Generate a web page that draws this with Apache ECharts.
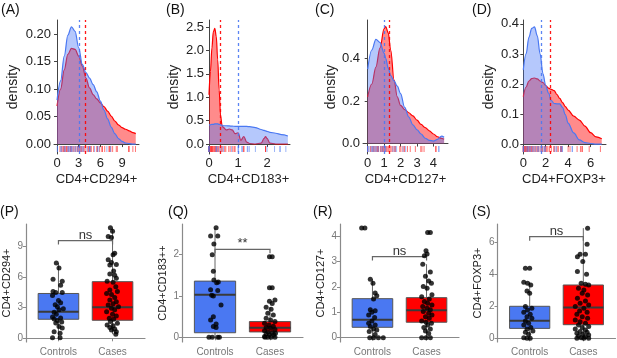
<!DOCTYPE html>
<html><head><meta charset="utf-8">
<script src="https://cdn.jsdelivr.net/npm/echarts@6/dist/echarts.min.js"></script>
<style>html,body{margin:0;padding:0;background:#fff}#c{width:617px;height:358px}</style>
</head><body><div id="c"></div>
<script>
// ---------------- DATA ----------------
const panelLabelsTop = ['(A)','(B)','(C)','(D)'];
const panelLabelsBottom = ['(P)','(Q)','(R)','(S)'];
const markerNames = ['CD4+CD294+','CD4+CD183+','CD4+CD127+','CD4+FOXP3+'];
const boxYNames = ['CD4+CD294+','CD4+CD183++','CD4+CD127+','CD4+FOXP3+'];
const groups = ['Controls','Cases'];
const sigLabels = ['ns','**','ns','ns'];
const bracketY = [9.59, 2.13, 3.2, 6.35];

// density curves
const densX_A = [0,0.5,1,1.5,2,2.5,3,3.5,4,4.5,5,5.5,6,6.5,7,7.5,8,8.5,9,9.5,10,10.5,10.9];
const densCtrl_A = [0.080,0.115,0.160,0.198,0.213,0.205,0.175,0.145,0.130,0.120,0.108,0.095,0.078,0.062,0.046,0.031,0.019,0.010,0.005,0.002,0.001,0.000,0.000];
const densCase_A = [0.069,0.100,0.135,0.163,0.174,0.172,0.160,0.142,0.120,0.102,0.090,0.082,0.075,0.068,0.060,0.051,0.042,0.035,0.030,0.027,0.024,0.021,0.019];

const densX_B = [0,0.05,0.1,0.15,0.2,0.25,0.3,0.35,0.4,0.45,0.5,0.6,0.7,0.8,0.9,1.0,1.1,1.2,1.3,1.4,1.6,1.8,1.9,1.95,2.0,2.1,2.3,2.5,2.72];
const densCtrl_B = [0.41,0.41,0.42,0.42,0.43,0.43,0.43,0.42,0.41,0.40,0.39,0.39,0.385,0.38,0.378,0.375,0.375,0.375,0.375,0.37,0.35,0.31,0.29,0.28,0.27,0.25,0.23,0.20,0.17];
const densCase_B = [1.05,1.55,2.05,2.40,2.47,2.30,1.80,1.15,0.60,0.40,0.35,0.30,0.32,0.30,0.22,0.24,0.08,0.16,0.04,0.01,0.0,0.02,0.12,0.16,0.12,0.02,0.0,0.0,0.0];

const densX_C = [0,0.25,0.5,0.75,1.0,1.1,1.25,1.4,1.6,1.8,2.0,2.25,2.5,2.75,3.0,3.25,3.5,3.75,4.0,4.25,4.5,4.65];
const densCtrl_C = [0.35,0.44,0.49,0.475,0.425,0.40,0.355,0.32,0.295,0.27,0.235,0.17,0.125,0.088,0.065,0.045,0.025,0.015,0.012,0.02,0.035,0.03];
const densCase_C = [0.22,0.28,0.36,0.45,0.54,0.55,0.52,0.44,0.30,0.22,0.18,0.16,0.145,0.13,0.11,0.09,0.075,0.06,0.045,0.032,0.024,0.02];

const densX_D = [0,0.25,0.5,0.75,1.0,1.25,1.5,1.75,2.0,2.25,2.5,2.75,3.0,3.25,3.5,3.75,4.0,4.5,5.0,5.5,6.0,6.5,7.0];
const densCtrl_D = [0.247,0.30,0.355,0.385,0.39,0.36,0.30,0.235,0.195,0.17,0.145,0.135,0.134,0.134,0.122,0.098,0.07,0.037,0.014,0.005,0.002,0.0,0.0];
const densCase_D = [0.158,0.19,0.21,0.218,0.22,0.217,0.21,0.205,0.195,0.186,0.182,0.178,0.165,0.152,0.138,0.125,0.113,0.093,0.08,0.06,0.038,0.024,0.018];

// group means (dashed lines)
const meanCtrl = [3.05, 1.01, 1.0, 1.57];
const meanCase = [3.9, 0.40, 1.3, 2.38];

// tick labels
const ticksTopX = [['0','3','6','9'], ['0','1','2'], ['0','1','2','3','4'], ['0','2','4','6']];
const ticksTopY = [['0.00','0.05','0.10','0.15','0.20'], ['0.0','0.5','1.0','1.5','2.0','2.5'], ['0.0','0.2','0.4'], ['0.0','0.1','0.2','0.3','0.4']];
const ticksBotY = [['0','3','6','9'], ['0','1','2'], ['0','1','2','3','4'], ['0','2','4','6']];

// box statistics [lower whisker, q1, median, q3, upper whisker]
const boxP_ctrl = [0, 1.87, 2.6, 4.4, 7.4];
const boxP_case = [0.4, 1.77, 3.04, 5.56, 10.86];
const boxQ_ctrl = [0, 0.11, 1.03, 1.36, 2.65];
const boxQ_case = [0, 0.13, 0.23, 0.38, 0.73];
const boxR_ctrl = [0, 0.41, 0.71, 1.54, 2.31];
const boxR_case = [0, 0.61, 1.08, 1.58, 2.9];
const boxS_ctrl = [0, 0.62, 1.1, 2.0, 3.5];
const boxS_case = [0, 0.85, 1.93, 3.33, 6.88];

// individual observations: [jitter (category units), value]
const ptsP_ctrl = [[-0.04,7.4],[0.01,6.9],[-0.10,5.8],[0.07,5.6],[0.04,5.2],[-0.10,4.6],[-0.05,4.5],[0.07,4.5],[-0.11,4.2],[0,3.7],[0.04,3.5],[-0.06,3.3],[-0.02,3.1],[0.09,2.9],[0.01,2.8],[-0.08,2.55],[-0.04,2.35],[-0.11,2.1],[0.04,2.0],[-0.08,1.9],[-0.02,1.75],[0.06,1.6],[-0.05,1.5],[0.01,1.15],[0.07,1.0],[-0.08,0.65],[0.03,0.5],[-0.11,0.05],[0.03,0.05]];
const ptsP_case = [[-0.04,10.86],[0,10.5],[-0.08,10.0],[-0.02,9.9],[0.04,8.35],[0.01,8.2],[-0.08,7.7],[-0.02,7.45],[0.07,7.25],[-0.05,7.2],[0.02,6.6],[-0.05,6.3],[0.04,6.2],[0.07,5.9],[-0.10,5.6],[0.01,5.5],[0.06,5.07],[-0.05,4.75],[0.09,4.6],[-0.11,4.4],[-0.02,4.3],[0.04,4.0],[-0.05,3.76],[0.07,3.6],[0.01,3.4],[-0.08,3.27],[0.11,3.1],[-0.02,2.95],[0.04,2.8],[-0.11,2.6],[0,2.36],[0.07,2.2],[-0.06,1.96],[0.02,1.87],[-0.04,1.64],[0.09,1.47],[-0.10,1.3],[0.01,1.24],[-0.05,1.05],[0.04,0.92],[-0.02,0.82],[0.07,0.65],[0.06,0.4]];
const ptsQ_ctrl = [[0.02,2.65],[-0.08,2.45],[0.05,2.45],[-0.02,2.26],[-0.05,2.0],[-0.03,1.6],[-0.02,1.39],[0.03,1.32],[0.06,1.34],[-0.08,1.15],[0.05,1.13],[-0.06,1.02],[-0.03,1.0],[0.11,0.78],[-0.03,0.5],[-0.08,0.42],[0.02,0.32],[-0.03,0.26],[0.02,0.24],[-0.11,0],[-0.05,0],[0.05,0],[0.08,0]];
const ptsQ_case = [[-0.01,1.95],[0.04,1.95],[-0.01,1.2],[0.04,1.2],[0.09,0.9],[-0.01,0.87],[0.04,0.82],[-0.07,0.73],[0.02,0.68],[-0.04,0.58],[0.06,0.54],[-0.07,0.46],[0.01,0.42],[0.09,0.38],[-0.10,0.34],[-0.02,0.3],[0.06,0.27],[-0.07,0.24],[0.01,0.22],[0.09,0.19],[-0.10,0.16],[-0.04,0.13],[0.04,0.11],[0.10,0.1],[-0.07,0.08],[-0.01,0.06],[0.07,0.06],[-0.10,0.02],[-0.04,0],[0.02,0],[0.09,0],[-0.09,0]];
const ptsR_ctrl = [[-0.2,4.33],[-0.14,4.33],[-0.04,2.31],[0.01,2.15],[0.05,1.76],[0.08,1.66],[0.02,1.53],[-0.04,1.1],[0.05,1.06],[-0.01,1.0],[-0.07,0.9],[0.04,0.8],[-0.01,0.66],[-0.07,0.57],[0.05,0.5],[-0.04,0.44],[0.02,0.34],[0.08,0.3],[-0.06,0.24],[0.05,0.13],[-0.05,0],[0.02,0],[0.11,0],[0.2,0]];
const ptsR_case = [[0.02,4.15],[0.07,4.15],[-0.01,3.43],[0.01,3.3],[-0.04,3.23],[-0.07,2.9],[0.07,2.59],[-0.02,2.42],[0.04,2.24],[0.09,2.15],[-0.06,2.02],[0.01,1.95],[0.1,1.69],[-0.09,1.62],[0.05,1.53],[-0.04,1.43],[0.02,1.36],[0.1,1.29],[-0.07,1.23],[0.01,1.16],[0.07,1.1],[-0.06,1.03],[0.04,0.96],[0.1,0.9],[-0.02,0.83],[0.05,0.77],[-0.09,0.66],[-0.01,0.61],[0.09,0.57],[0.02,0.5],[-0.05,0.4],[0.07,0.34],[-0.02,0.26],[0.04,0.17],[-0.09,0],[-0.01,0],[0.07,0]];
const ptsS_ctrl = [[-0.08,4.37],[0,4.37],[-0.11,3.5],[-0.04,3.44],[0.02,3.33],[-0.05,2.96],[0,2.81],[-0.08,1.98],[0.04,1.88],[-0.04,1.77],[-0.11,1.63],[0.01,1.5],[-0.05,1.35],[0.04,1.25],[-0.08,1.08],[-0.02,0.94],[-0.11,0.83],[0.02,0.67],[-0.05,0.58],[0.06,0.46],[-0.08,0.38],[-0.02,0.25],[-0.11,0.04],[-0.05,0],[0.01,0]];
const ptsS_case = [[0.08,6.88],[0.07,5.88],[-0.06,5.25],[0.04,5.25],[-0.11,5.1],[-0.01,4.8],[-0.11,4.17],[0.06,4.0],[-0.04,3.44],[0.04,3.38],[0.1,3.33],[-0.09,3.13],[0.01,3.02],[-0.02,2.81],[0.08,2.71],[-0.11,2.5],[0.04,2.33],[-0.06,2.19],[0.1,2.08],[-0.15,1.98],[0.01,1.88],[-0.07,1.71],[0.07,1.63],[-0.12,1.5],[-0.02,1.35],[0.08,1.25],[-0.15,1.15],[-0.06,1.04],[0.04,0.94],[-0.09,0.83],[0.1,0.73],[-0.02,0.67],[-0.15,0.58],[0.04,0.52],[-0.06,0.42],[0.07,0.38],[-0.12,0.31],[-0.01,0.25],[0.1,0.21],[-0.09,0.15],[0.04,0.1],[-0.04,0.04],[-0.12,0],[0.01,0],[0.1,0]];

// ---------------- LAYOUT / STYLE ----------------
const FONT = '"Liberation Sans", Arial, sans-serif';
const BLUE = '#4a78f2', RED = '#ff0000';
const topLayout = [
  {grid:{left:54,top:20,width:85,height:134}, x:[-0.42,11.35], y:[-0.018,0.2255], yGap:34, lx:1},
  {grid:{left:207,top:20,width:83,height:134}, x:[-0.069,2.793], y:[-0.214,2.65], yGap:26, lx:166},
  {grid:{left:363,top:20,width:85,height:134}, x:[-0.286,4.887], y:[-0.049,0.581], yGap:25, lx:315},
  {grid:{left:522,top:20,width:84,height:134}, x:[-0.116,7.38], y:[-0.033,0.413], yGap:26, lx:472}
];
const botLayout = [
  {grid:{left:26,top:224,width:119,height:118}, y:[-0.363,11.22], lx:0},
  {grid:{left:182,top:224,width:121,height:118}, y:[-0.114,2.743], lx:168},
  {grid:{left:340,top:224,width:119,height:118}, y:[-0.17,4.487], lx:313},
  {grid:{left:497.5,top:224,width:118,height:118}, y:[-0.231,7.14], lx:472}
];
const dens = [
  [densX_A, densCtrl_A, densCase_A],
  [densX_B, densCtrl_B, densCase_B],
  [densX_C, densCtrl_C, densCase_C],
  [densX_D, densCtrl_D, densCase_D]
];
const boxes = [[boxP_ctrl, boxP_case],[boxQ_ctrl, boxQ_case],[boxR_ctrl, boxR_case],[boxS_ctrl, boxS_case]];
const pts = [[ptsP_ctrl, ptsP_case],[ptsQ_ctrl, ptsQ_case],[ptsR_ctrl, ptsR_case],[ptsS_ctrl, ptsS_case]];

function fmt(labels){
  const vals = labels.map(Number);
  return v => { const i = vals.findIndex(t => Math.abs(t - v) < 1e-9); return i >= 0 ? labels[i] : ''; };
}

const grids = [], xAxes = [], yAxes = [], series = [], titles = [];
// top row: densities
topLayout.forEach((L, i) => {
  grids.push(L.grid);
  const xv = ticksTopX[i].map(Number), yv = ticksTopY[i].map(Number);
  const axLine = {show:true, lineStyle:{color:'#444', width:1}};
  xAxes.push({gridIndex:i, type:'value', min:L.x[0], max:L.x[1], splitLine:{show:false},
    axisLine:axLine, axisTick:{show:true, length:3, customValues:xv, lineStyle:{color:'#444'}},
    axisLabel:{customValues:xv, formatter:fmt(ticksTopX[i]), color:'#222', fontSize:13, fontFamily:FONT, margin:3},
    name:markerNames[i], nameLocation:'middle', nameGap:19, nameTextStyle:{color:'#222', fontSize:13, fontFamily:FONT}});
  yAxes.push({gridIndex:i, type:'value', min:L.y[0], max:L.y[1], splitLine:{show:false},
    axisLine:axLine, axisTick:{show:true, length:3, customValues:yv, lineStyle:{color:'#444'}},
    axisLabel:{customValues:yv, formatter:fmt(ticksTopY[i]), color:'#222', fontSize:13, fontFamily:FONT, margin:3},
    name:'density', nameLocation:'middle', nameGap:L.yGap, nameTextStyle:{color:'#222', fontSize:14, fontFamily:FONT}});
  const [xs, c, k] = dens[i];
  const mk = (ys, col, fill, mean, z) => ({
    type:'line', xAxisIndex:i, yAxisIndex:i, data: xs.map((x, j) => [x, ys[j]]),
    showSymbol:false, smooth:0.35, smoothMonotone:'x', z,
    lineStyle:{color:col, width:1.2}, areaStyle:{color:fill},
    markLine:{silent:true, symbol:['none','none'], label:{show:false}, animation:false,
      lineStyle:{color:col, type:[3,3], width:1.3, opacity:0.9}, data:[{xAxis:mean}]}
  });
  series.push(mk(k, RED, 'rgba(255,0,0,0.65)', meanCase[i], 2));
  series.push(mk(c, BLUE, 'rgba(79,123,247,0.6)', meanCtrl[i], 3));
  // rugs from observations
  const rug = (arr, col) => ({type:'custom', xAxisIndex:i, yAxisIndex:i, z:4, silent:true,
    data: arr.map(p => [p[1], 0]),
    renderItem:(params, api) => {
      const x = api.coord([api.value(0), 0])[0];
      const cs = params.coordSys, b = cs.y + cs.height;
      return {type:'line', shape:{x1:x, y1:b-2, x2:x, y2:b-8}, style:{stroke:col, lineWidth:1, opacity:0.55}};
    }});
  series.push(rug(pts[i][1], RED));
  series.push(rug(pts[i][0], BLUE));
  titles.push({text:panelLabelsTop[i], left:L.lx, top:3, padding:0, textStyle:{fontSize:14, fontWeight:'normal', color:'#111', fontFamily:FONT}});
});

// bottom row: box plots
botLayout.forEach((L, j) => {
  const i = j + 4;
  grids.push(L.grid);
  const yv = ticksBotY[j].map(Number);
  const axLine = {show:true, lineStyle:{color:'#8a8a8a', width:1.2}};
  xAxes.push({gridIndex:i, type:'value', min:0.4, max:2.6, splitLine:{show:false},
    axisLine:axLine, axisTick:{show:true, length:3, customValues:[1,2], lineStyle:{color:'#8a8a8a'}},
    axisLabel:{customValues:[1,2], formatter:v => groups[Math.round(v)-1] || '', color:'#777', fontSize:10, fontFamily:FONT, margin:5}});
  yAxes.push({gridIndex:i, type:'value', min:L.y[0], max:L.y[1], splitLine:{show:false},
    axisLine:axLine, axisTick:{show:true, length:3, customValues:yv, lineStyle:{color:'#8a8a8a'}},
    axisLabel:{customValues:yv, formatter:fmt(ticksBotY[j]), color:'#777', fontSize:10, fontFamily:FONT, margin:3},
    name:boxYNames[j], nameLocation:'middle', nameGap:14, nameTextStyle:{color:'#222', fontSize:11, fontFamily:FONT}});
  const cols = [BLUE, RED];
  series.push({type:'custom', xAxisIndex:i, yAxisIndex:i, z:2, silent:true,
    data: boxes[j].map((b, g) => [g + 1].concat(b)),
    renderItem:(params, api) => {
      const x = api.value(0);
      const p = k => api.coord([x, api.value(k)]);
      const hw = api.size([0.75, 0])[0] / 2;
      const lo = p(1), q1 = p(2), md = p(3), q3 = p(4), hi = p(5);
      const px = lo[0];
      return {type:'group', children:[
        {type:'line', shape:{x1:px, y1:q3[1], x2:px, y2:hi[1]}, style:{stroke:'#666', lineWidth:1}},
        {type:'line', shape:{x1:px, y1:q1[1], x2:px, y2:lo[1]}, style:{stroke:'#666', lineWidth:1}},
        {type:'rect', shape:{x:px-hw, y:q3[1], width:2*hw, height:q1[1]-q3[1]}, style:{fill:cols[params.dataIndex], stroke:'#555', lineWidth:1}},
        {type:'line', shape:{x1:px-hw, y1:md[1], x2:px+hw, y2:md[1]}, style:{stroke:'#3a3a3a', lineWidth:2}}
      ]};
    }});
  // significance bracket
  series.push({type:'custom', xAxisIndex:i, yAxisIndex:i, z:3, silent:true,
    data:[[1, 2, bracketY[j]]],
    renderItem:(params, api) => {
      const a = api.coord([api.value(0), api.value(2)]);
      const b = api.coord([api.value(1), api.value(2)]);
      return {type:'group', children:[
        {type:'polyline', shape:{points:[[a[0], a[1]+4],[a[0], a[1]],[b[0], b[1]],[b[0], b[1]+4]]}, style:{stroke:'#666', lineWidth:1.2, fill:null}},
        {type:'text', style:{text:sigLabels[j], x:(a[0]+b[0])/2, y:a[1]+1, align:'center', verticalAlign:'bottom', textAlign:'center', textVerticalAlign:'bottom', fontSize:13, fontFamily:FONT, fill:'#333'}}
      ]};
    }});
  pts[j].forEach((arr, g) => {
    series.push({type:'scatter', xAxisIndex:i, yAxisIndex:i, z:4, symbolSize:5, silent:true,
      itemStyle:{color:'#000'}, data: arr.map(pt => [g + 1 + pt[0], pt[1]])});
  });
  titles.push({text:panelLabelsBottom[j], left:L.lx, top:205, padding:0, textStyle:{fontSize:14, fontWeight:'normal', color:'#111', fontFamily:FONT}});
});

const chart = echarts.init(document.getElementById('c'), null, {renderer:'canvas'});
chart.setOption({animation:false, backgroundColor:'#fff', title:titles, grid:grids, xAxis:xAxes, yAxis:yAxes, series});
</script></body></html>
